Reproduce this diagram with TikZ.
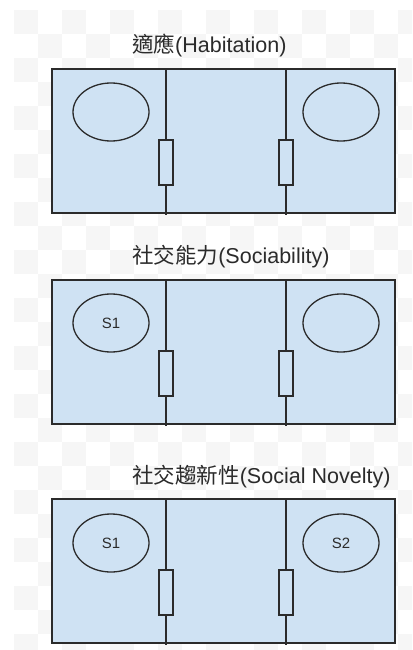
\documentclass[tikz,border=0pt]{standalone}
\usepackage{fontspec}
\setmainfont{Liberation Sans}
\newfontfamily\cjk{Noto Sans CJK TC}
\usetikzlibrary{shapes.geometric}
\definecolor{boxfill}{HTML}{CFE2F3}
\definecolor{ink}{HTML}{2B2B2B}
\definecolor{chk}{HTML}{F6F6F6}
\begin{document}
\begin{tikzpicture}[x=1bp,y=-1bp,
  panel/.style={draw=ink, fill=boxfill, line width=1.8bp, minimum width=343bp, minimum height=144bp, inner sep=0pt, outer sep=0pt, anchor=north west},
  res/.style={draw=ink, fill=boxfill, line width=1.4bp, minimum width=14bp, minimum height=45bp, inner sep=0pt, outer sep=0pt},
  oval/.style={ellipse, draw=ink, line width=1.3bp, minimum width=76bp, minimum height=58bp, inner sep=0pt, outer sep=0pt, font=\fontsize{15}{17}\selectfont, text=ink},
  wire/.style={draw=ink, line width=1.8bp},
  title/.style={anchor=base west, inner sep=0pt, font=\fontsize{21.6}{25}\selectfont, text=ink}]
\useasboundingbox (0,0) rectangle (412,650);
\fill[white] (0,0) rectangle (412,650);
\begin{scope}
\clip (14,10) rectangle (412,650);
\foreach \i in {0,...,16}{
  \foreach \j in {0,...,26}{
    \pgfmathtruncatemacro\k{\i+\j}
    \ifodd\k\else
      \fill[chk] ({14+24*\i},{10+24*\j}) rectangle ++(24,24);
    \fi
  }
}
\end{scope}
\node[title] (t1) at (132,53) {{\cjk 適應}(Habitation)};
\node[title] (t2) at (132,263) {{\cjk 社交能力}(Sociability)};
\node[title] (t3) at (132,483) {{\cjk 社交趨新性}(Social Novelty)};
\foreach \n/\top in {1/69,2/280,3/499}{
  \node[panel] (p\n) at (52,\top) {};
  \node[res] (ra\n) at (166,{\top+93.5}) {};
  \node[res] (rb\n) at (286,{\top+93.5}) {};
  \draw[wire] (ra\n.north |- p\n.north) -- (ra\n.north);
  \draw[wire] (ra\n.south) -- ([yshift=-2bp]ra\n.south |- p\n.south);
  \draw[wire] (rb\n.north |- p\n.north) -- (rb\n.north);
  \draw[wire] (rb\n.south) -- ([yshift=-2bp]rb\n.south |- p\n.south);
}
\node[oval] (ea1) at (111,112) {};
\node[oval] (eb1) at (341,112) {};
\node[oval] (ea2) at (111,323) {S1};
\node[oval] (eb2) at (341,323) {};
\node[oval] (ea3) at (111,543) {S1};
\node[oval] (eb3) at (341,543) {S2};
\end{tikzpicture}
\end{document}
